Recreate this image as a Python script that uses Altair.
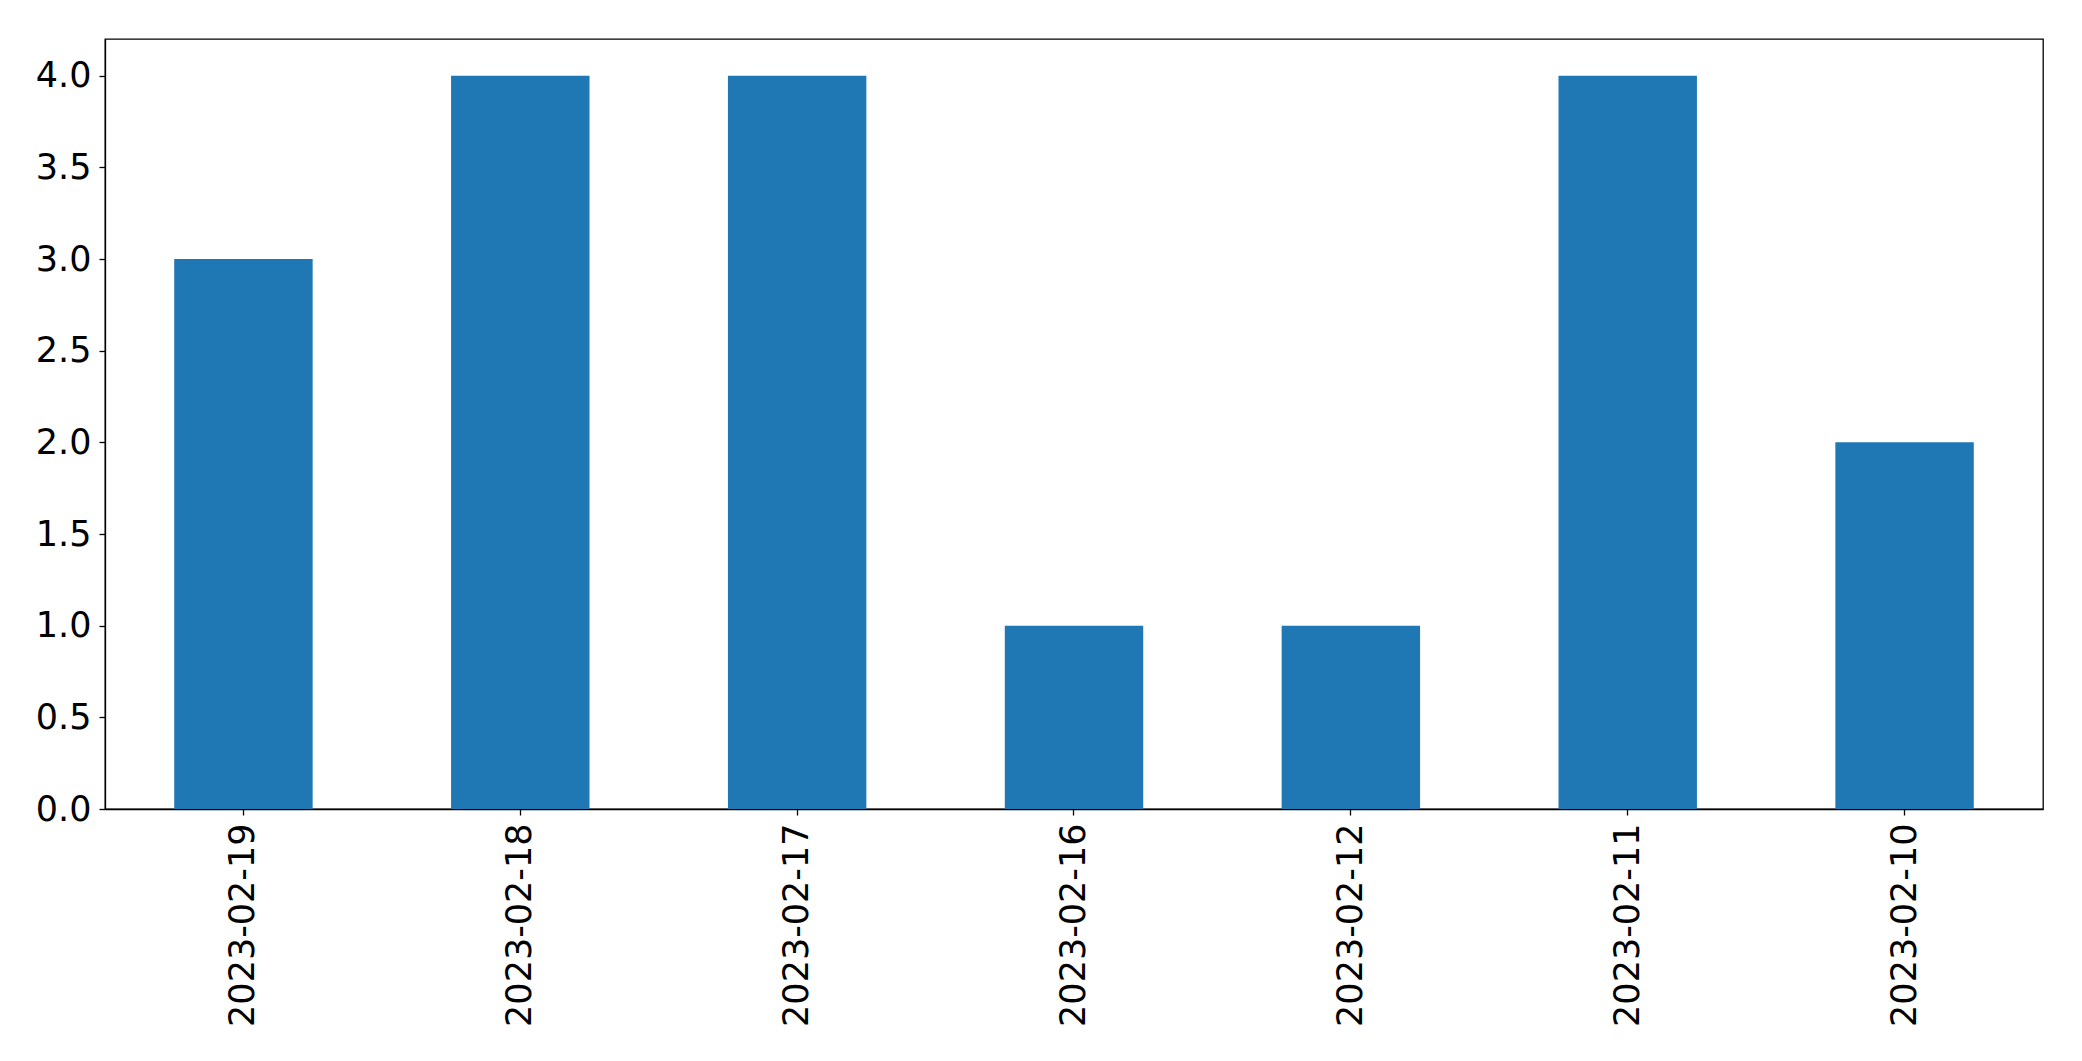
import altair as alt
import pandas as pd

dates = ["2023-02-19", "2023-02-18", "2023-02-17", "2023-02-16", "2023-02-12", "2023-02-11", "2023-02-10"]
counts = [3, 4, 4, 1, 1, 4, 2]

df = pd.DataFrame({"date": dates, "count": counts})

chart = alt.Chart(df).mark_bar(color="#1f77b4").encode(
    x=alt.X("date:N", sort=None, title=None,
            scale=alt.Scale(paddingInner=0.5, paddingOuter=0.25),
            axis=alt.Axis(labelAngle=270, labelFontSize=35, labelFont="DejaVu Sans",
                          labelColor="black", tickColor="black", domainColor="black",
                          tickSize=6, labelPadding=8, labelLimit=0, domainWidth=1.3, tickWidth=1.3)),
    y=alt.Y("count:Q", title=None,
            scale=alt.Scale(domain=[0, 4.2], nice=False),
            axis=alt.Axis(values=[0, 0.5, 1, 1.5, 2, 2.5, 3, 3.5, 4], format=".1f",
                          labelFontSize=35, labelFont="DejaVu Sans", labelColor="black",
                          tickColor="black", domainColor="black", tickSize=6, labelPadding=8,
                          grid=False, domainWidth=1.3, tickWidth=1.3)),
).properties(
    width=1938, height=770,
    autosize=alt.AutoSizeParams(type="none"),
    padding={"left": 97, "top": 31, "right": 30, "bottom": 240},
).configure_view(stroke="black", strokeWidth=1.3)

chart.save("out.html", embed_options={"renderer": "svg", "actions": False})
